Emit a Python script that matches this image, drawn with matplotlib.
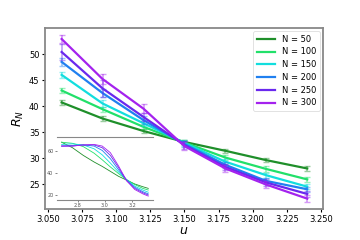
import numpy as np
import matplotlib
matplotlib.use("Agg")
import matplotlib.pyplot as plt

# ---- main data ----
u = [3.06, 3.09, 3.12, 3.15, 3.18, 3.21, 3.24]
R_50  = [40.7, 37.6, 35.2, 33.1, 31.4, 29.6, 28.0]
R_100 = [43.0, 39.4, 36.0, 33.0, 30.1, 27.9, 25.9]
R_150 = [46.0, 40.5, 36.7, 32.9, 29.3, 26.7, 24.5]
R_200 = [48.5, 42.5, 37.3, 32.7, 28.7, 25.6, 24.0]
R_250 = [50.4, 43.4, 37.9, 32.5, 28.3, 25.3, 23.1]
R_300 = [52.9, 45.2, 39.5, 32.3, 28.0, 24.9, 22.2]
err_50  = [0.4, 0.4, 0.4, 0.4, 0.4, 0.4, 0.4]
err_100 = [0.5, 0.5, 0.5, 0.5, 0.5, 0.5, 0.5]
err_150 = [0.6, 0.6, 0.6, 0.5, 0.5, 0.5, 0.5]
err_200 = [0.8, 0.8, 0.7, 0.6, 0.6, 0.5, 0.5]
err_250 = [1.6, 1.6, 0.8, 0.7, 0.6, 0.6, 0.6]
err_300 = [0.8, 1.0, 0.9, 0.8, 0.7, 0.7, 0.7]
labels = ["N = 50", "N = 100", "N = 150", "N = 200", "N = 250", "N = 300"]
colors = ["#1f8f2a", "#22e06a", "#12dede", "#2080f0", "#6a28ee", "#a422ee"]

# ---- inset data ----
u_in = [2.68, 2.76, 2.84, 2.92, 2.98, 3.04, 3.10, 3.16, 3.22, 3.28, 3.32]
Rin_50  = [68, 63, 56, 50, 46, 41.5, 37, 33.5, 30, 27.5, 26]
Rin_100 = [68, 67, 64, 58, 52, 45.5, 39.5, 34, 29.5, 26, 24.5]
Rin_150 = [66, 66.5, 65.5, 62, 56.5, 49, 41, 34, 28, 24.5, 22.5]
Rin_200 = [64.5, 65, 65.5, 64.5, 60.5, 53, 43, 33.5, 27, 23, 21]
Rin_250 = [64.5, 64.5, 65.5, 65.5, 63, 56, 45, 33, 26, 22, 20]
Rin_300 = [64.5, 64.5, 65.5, 66, 64.5, 58.5, 46.5, 33, 25, 21, 19]

R_all = [R_50, R_100, R_150, R_200, R_250, R_300]
E_all = [err_50, err_100, err_150, err_200, err_250, err_300]
Rin_all = [Rin_50, Rin_100, Rin_150, Rin_200, Rin_250, Rin_300]

fig = plt.figure(figsize=(3.6, 2.4), dpi=100)
ax = fig.add_axes([0.125, 0.129, 0.772, 0.754])

for R, E, c, lab in zip(R_all, E_all, colors, labels):
    ax.errorbar(u, R, yerr=E, fmt='none', ecolor=c, alpha=0.45,
                elinewidth=1.2, capsize=2, capthick=1.0)
    ax.plot(u, R, color=c, lw=1.6, label=lab)

ax.set_xlim(3.0478, 3.2515)
ax.set_ylim(20.2, 55.0)
ax.set_xticks([3.050, 3.075, 3.100, 3.125, 3.150, 3.175, 3.200, 3.225, 3.250])
ax.set_yticks([25, 30, 35, 40, 45, 50])
ax.tick_params(labelsize=6, length=2.5, width=0.8, pad=1.5)
for s in ax.spines.values():
    s.set_color("#888888")
    s.set_linewidth(1.3)
ax.set_xlabel("$u$", fontsize=9, labelpad=0)
ax.set_ylabel("$R_N$", fontsize=9, labelpad=2)

leg = ax.legend(loc="upper right", fontsize=6, frameon=True, handlelength=2.2,
                borderaxespad=0.4, labelspacing=0.45, handletextpad=0.8,
                fancybox=True, framealpha=1.0)
leg.get_frame().set_edgecolor("#dddddd")
leg.get_frame().set_linewidth(0.6)

# ---- inset ----
axi = fig.add_axes([0.158, 0.167, 0.267, 0.262])
for R, c in zip(Rin_all, colors):
    axi.plot(u_in, R, color=c, lw=0.6)
axi.set_xlim(2.645, 3.355)
axi.set_ylim(15.5, 72.7)
axi.set_xticks([2.8, 3.0, 3.2])
axi.set_yticks([20, 40, 60])
axi.tick_params(labelsize=3.5, length=1.5, width=0.5, pad=1, colors="#555555")
axi.patch.set_alpha(0.0)
for name, s in axi.spines.items():
    if name in ("left", "right"):
        s.set_visible(False)
    else:
        s.set_color("#888888")
        s.set_linewidth(0.8)

fig.savefig("out.png", dpi=100)
